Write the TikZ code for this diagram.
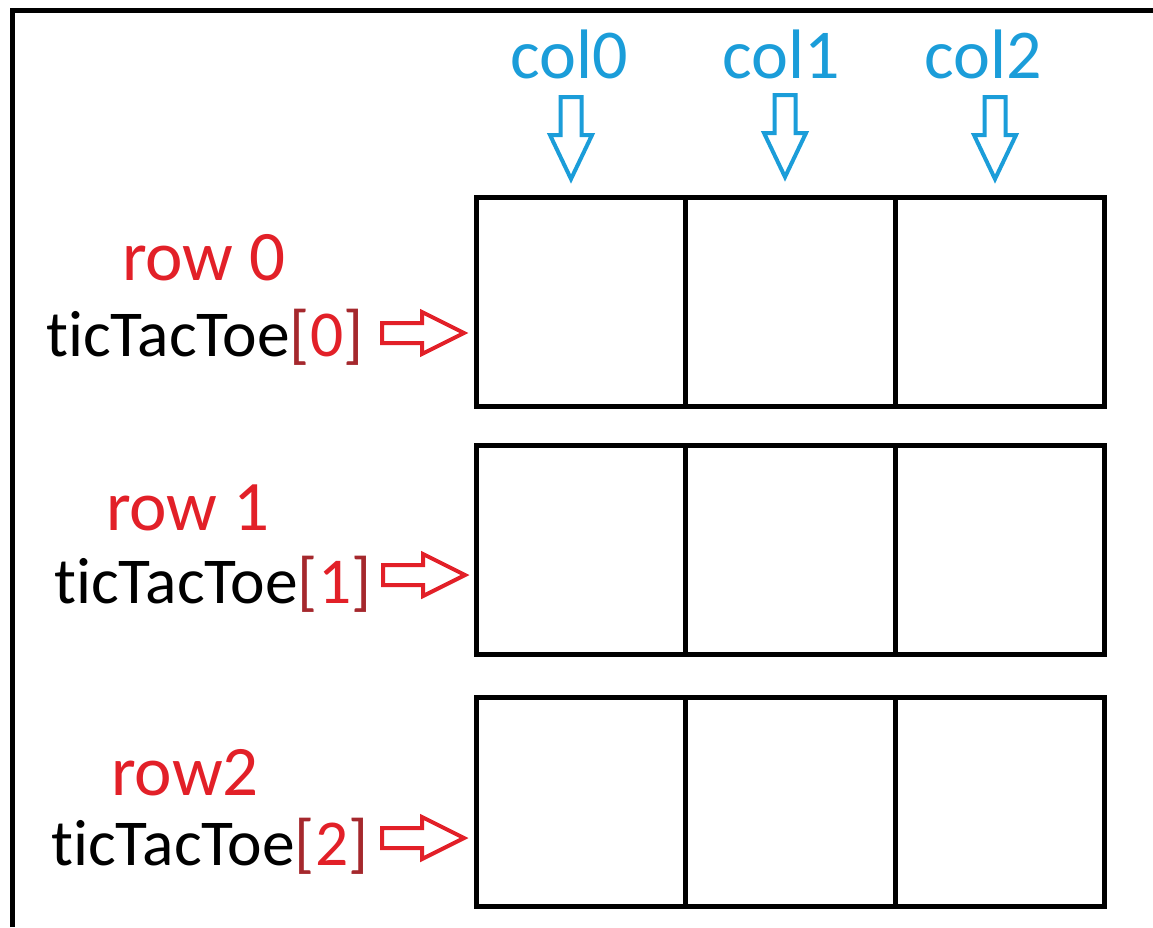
\documentclass[tikz,border=0pt]{standalone}
\usepackage{fontspec}
\setmainfont[Ligatures=NoCommon]{Carlito}
\definecolor{rowred}{RGB}{226,32,40}
\definecolor{brkred}{RGB}{165,40,45}
\definecolor{colblue}{RGB}{27,157,217}
\begin{document}
\begin{tikzpicture}[x=1pt,y=-1pt,
 cell/.style={draw, line width=5pt, minimum width=209.5pt, minimum height=209pt, inner sep=0pt, outer sep=0pt, anchor=north west},
 rowlab/.style={text=rowred, font=\fontsize{71}{80}\selectfont, inner sep=0pt, anchor=base},
 idxlab/.style={font=\fontsize{65.5}{72}\selectfont, inner sep=0pt, anchor=base west},
 collab/.style={text=colblue, font=\fontsize{70}{80}\selectfont, inner sep=0pt, anchor=base},
 rarr/.pic={\draw[rowred, line width=4pt, line join=miter] (0,0) -- (-42,-21) -- (-42,-10) -- (-82,-10) -- (-82,10) -- (-42,10) -- (-42,21) -- cycle;},
 darr/.pic={\draw[colblue, line width=4pt, line join=miter] (0,0) -- (-21,-44) -- (-10.5,-44) -- (-10.5,-82) -- (10.5,-82) -- (10.5,-44) -- (21,-44) -- cycle;}
]
\useasboundingbox (0,0) rectangle (1153,927);
% frame (top and left only)
\draw[line width=5pt] (12.5,927) -- (12.5,10.5) -- (1153,10.5);
% cells
\foreach \r/\y in {0/197,1/445,2/697}{
  \foreach \c/\x in {0/476,1/685.5,2/895}{
    \node[cell] (c\r\c) at (\x,\y) {};
  }
}
% column labels and arrows
\node[collab] (col0) at (569,78) {col0};
\node[collab] (col1) at (781,78) {col1};
\node[collab] (col2) at (983,78) {col2};
\pic at (571,179) {darr};
\pic at (785,177) {darr};
\pic at (995,179) {darr};
% row labels
\node[rowlab] (row0) at (204,280) {row 0};
\node[rowlab] (row1) at (188,530) {row 1};
\node[rowlab] (row2) at (185,795) {row2};
\node[idxlab] (t0) at (46,356) {ticTacToe\textcolor{brkred}{[}\textcolor{rowred}{0}\textcolor{brkred}{]}};
\node[idxlab] (t1) at (54,603) {ticTacToe\textcolor{brkred}{[}\textcolor{rowred}{1}\textcolor{brkred}{]}};
\node[idxlab] (t2) at (51,865) {ticTacToe\textcolor{brkred}{[}\textcolor{rowred}{2}\textcolor{brkred}{]}};
\pic at (464,333) {rarr};
\pic at (465,575) {rarr};
\pic at (464,838) {rarr};
\end{tikzpicture}
\end{document}
